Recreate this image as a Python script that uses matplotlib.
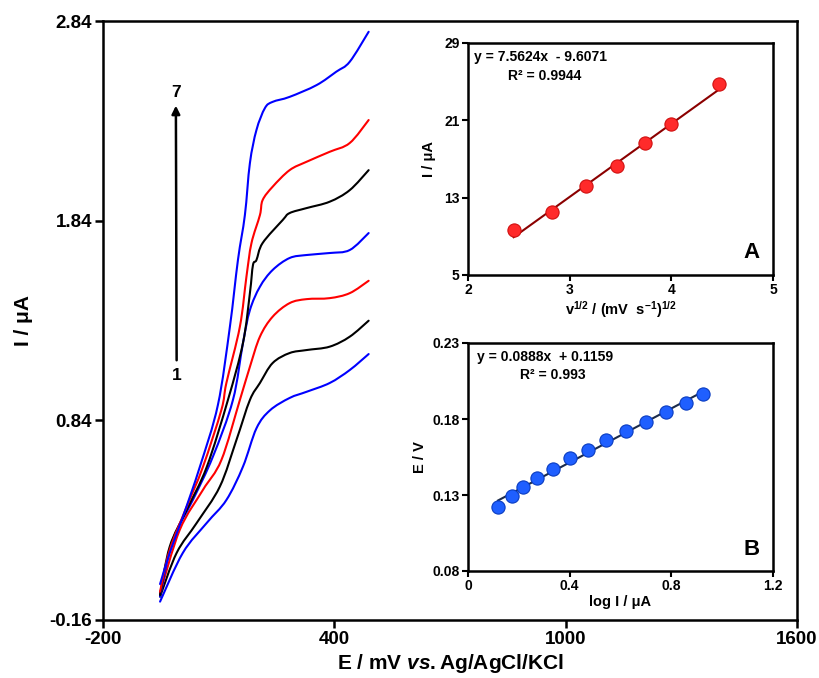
import numpy as np
import matplotlib
matplotlib.use("Agg")
import matplotlib.pyplot as plt
from matplotlib.path import Path
from matplotlib.patches import PathPatch

plt.rcParams['font.family'] = ['Liberation Sans', 'DejaVu Sans']
plt.rcParams['font.weight'] = 'bold'
plt.rcParams['mathtext.fontset'] = 'custom'
plt.rcParams['mathtext.rm'] = 'Liberation Sans:bold'
plt.rcParams['mathtext.bf'] = 'Liberation Sans:bold'
plt.rcParams['mathtext.it'] = 'Liberation Sans:bold:italic'

# ---------------- main LSV curves (E in mV, I in uA) ----------------
c1_E = [-52, 7, 69, 120, 163, 198, 233, 284, 328, 388, 440, 489]
c1_I = [-0.068, 0.176, 0.326, 0.441, 0.608, 0.800, 0.890, 0.952, 0.983, 1.027, 1.092, 1.172]

c2_E = [-52, -9, 43, 103, 146, 181, 207, 240, 284, 328, 388, 440, 489]
c2_I = [-0.043, 0.176, 0.326, 0.508, 0.741, 0.942, 1.027, 1.127, 1.177, 1.192, 1.209, 1.259, 1.339]

c3_E = [-52, -1, 59, 107, 155, 181, 207, 240, 284, 328, 388, 440, 489]
c3_I = [-0.025, 0.291, 0.491, 0.641, 0.942, 1.108, 1.259, 1.359, 1.427, 1.447, 1.452, 1.477, 1.539]

c4_E = [-52, -19, 33, 85, 137, 163, 181, 207, 240, 284, 328, 388, 440, 489]
c4_I = [-0.043, 0.241, 0.441, 0.658, 0.942, 1.227, 1.392, 1.509, 1.593, 1.653, 1.668, 1.678, 1.693, 1.778]

c5_E = [-52, -27, 17, 69, 124, 163, 181, 189, 198, 214, 266, 284, 328, 388, 440, 489]
c5_I = [-0.035, 0.207, 0.391, 0.606, 0.942, 1.227, 1.477, 1.618, 1.643, 1.728, 1.843, 1.878, 1.903, 1.935, 1.993, 2.093]

c6_E = [-52, -27, 17, 59, 107, 120, 155, 172, 185, 207, 214, 240, 284, 328, 388, 440, 489]
c6_I = [-0.018, 0.191, 0.407, 0.606, 0.892, 1.027, 1.309, 1.559, 1.727, 1.868, 1.943, 2.010, 2.093, 2.135, 2.185, 2.229, 2.344]

c7_E = [-52, -27, 7, 51, 98, 129, 150, 168, 181, 198, 220, 240, 284, 354, 405, 440, 489]
c7_I = [0.020, 0.176, 0.356, 0.606, 0.917, 1.307, 1.643, 1.868, 2.128, 2.294, 2.404, 2.435, 2.460, 2.519, 2.586, 2.636, 2.786]

curves_E = [c1_E, c2_E, c3_E, c4_E, c5_E, c6_E, c7_E]
curves_I = [c1_I, c2_I, c3_I, c4_I, c5_I, c6_I, c7_I]
curve_colors = ['#0000FF', '#000000', '#FF0000', '#0000FF', '#000000', '#FF0000', '#0000FF']

main_xticks = [-200, 400, 1000, 1600]
main_yticks = [-0.16, 0.84, 1.84, 2.84]

# ---------------- inset A ----------------
A_x = [2.449, 2.828, 3.162, 3.464, 3.742, 4.0, 4.472]
A_y = [9.66, 11.56, 14.22, 16.29, 18.64, 20.61, 24.75]
A_slope, A_icpt = 7.5624, -9.6071
A_xticks = [2, 3, 4, 5]
A_yticks = [5, 13, 21, 29]

# ---------------- inset B ----------------
B_x = [0.118, 0.173, 0.216, 0.271, 0.334, 0.400, 0.472, 0.542, 0.623, 0.702, 0.780, 0.856, 0.925]
B_y = [0.1222, 0.1293, 0.1354, 0.1409, 0.1469, 0.1541, 0.1596, 0.1662, 0.1722, 0.1783, 0.1843, 0.1904, 0.1964]
B_slope, B_icpt = 0.0888, 0.1159
B_xticks = [0, 0.4, 0.8, 1.2]
B_yticks = [0.08, 0.13, 0.18, 0.23]

W, H = 819, 678
fig = plt.figure(figsize=(W / 100, H / 100), dpi=100)

def frac(x0, y0, x1, y1):
    return [x0 / W, 1 - y1 / H, (x1 - x0) / W, (y1 - y0) / H]

def smooth_path(xs, ys):
    """Smooth curve through the data points (Catmull-Rom as cubic Bezier)."""
    P = np.column_stack([xs, ys]).astype(float)
    n = len(P)
    verts = [P[0]]
    codes = [Path.MOVETO]
    for i in range(n - 1):
        p0 = P[i - 1] if i > 0 else P[i]
        p1 = P[i]
        p2 = P[i + 1]
        p3 = P[i + 2] if i + 2 < n else P[i + 1]
        c1 = p1 + (p2 - p0) / 6.0
        c2 = p2 - (p3 - p1) / 6.0
        verts += [c1, c2, p2]
        codes += [Path.CURVE4] * 3
    return Path(verts, codes)

ax = fig.add_axes(frac(103, 21, 797, 620))
for E, I, c in zip(curves_E, curves_I, curve_colors):
    ax.add_patch(PathPatch(smooth_path(E, I), fill=False, edgecolor=c, lw=1.5,
                           joinstyle='round', capstyle='round'))
ax.set_xlim(-200, 1600)
ax.set_ylim(-0.16, 2.84)
ax.set_xticks(main_xticks)
ax.set_xticklabels([str(v) for v in main_xticks])
ax.set_yticks(main_yticks)
ax.set_yticklabels(['%.2f' % v for v in main_yticks])
for s in ax.spines.values():
    s.set_linewidth(1.8)
ax.tick_params(direction='out', length=6, width=1.8, labelsize=13.5, pad=2)
ax.set_xlabel(r'E / mV $\mathit{vs.}$Ag/AgCl/KCl', fontsize=15, fontweight='bold', labelpad=3)
ax.set_ylabel('I / μA', fontsize=15, fontweight='bold', labelpad=12)

# arrow 1 -> 7
ax.annotate('', xy=(-11, 2.43), xytext=(-9, 1.127),
            arrowprops=dict(arrowstyle='-|>', color='black', lw=1.8, mutation_scale=12))
ax.text(-11, 2.48, '7', fontsize=12.5, fontweight='bold', ha='center', va='center')
ax.text(-9, 1.067, '1', fontsize=12.5, fontweight='bold', ha='center', va='center')

def style_inset(a):
    for s in a.spines.values():
        s.set_linewidth(1.8)
    a.tick_params(direction='out', length=4, width=1.5, labelsize=10, pad=2)

# inset A
axA = fig.add_axes(frac(468, 43, 773, 275))
xa = np.array([A_x[0], A_x[-1]])
axA.plot(xa, A_slope * xa + A_icpt, color='#8B0000', lw=1.5, zorder=2)
axA.plot(A_x, A_y, 'o', ms=9.5, mfc='#FF2A2A', mec='#D01010', mew=0.8, zorder=3)
axA.set_xlim(2, 5)
axA.set_ylim(5, 29)
axA.set_xticks(A_xticks)
axA.set_yticks(A_yticks)
style_inset(axA)
axA.set_xlabel(r'v$^{1/2}$ / (mV  s$^{-1}$)$^{1/2}$', fontsize=10.5, fontweight='bold', labelpad=1)
axA.set_ylabel('I / μA', fontsize=10.5, fontweight='bold', labelpad=6)
axA.text(0.02, 0.97, 'y = 7.5624x  - 9.6071', transform=axA.transAxes, fontsize=10,
         fontweight='bold', ha='left', va='top')
axA.text(0.13, 0.89, 'R² = 0.9944', transform=axA.transAxes, fontsize=10,
         fontweight='bold', ha='left', va='top')
axA.text(0.955, 0.05, 'A', transform=axA.transAxes, fontsize=16, fontweight='bold',
         ha='right', va='bottom')

# inset B
axB = fig.add_axes(frac(468, 343, 773, 571))
xb = np.array([B_x[0], B_x[-1]])
axB.plot(xb, B_slope * xb + B_icpt, color='#1C2B4A', lw=1.5, zorder=2)
axB.plot(B_x, B_y, 'o', ms=9.5, mfc='#1F5FFF', mec='#0A3CC0', mew=0.8, zorder=3)
axB.set_xlim(0, 1.2)
axB.set_ylim(0.08, 0.23)
axB.set_xticks(B_xticks)
axB.set_xticklabels(['0', '0.4', '0.8', '1.2'])
axB.set_yticks(B_yticks)
axB.set_yticklabels(['%.2f' % v for v in B_yticks])
style_inset(axB)
axB.set_xlabel('log I / μA', fontsize=10.5, fontweight='bold', labelpad=1)
axB.set_ylabel('E / V', fontsize=10.5, fontweight='bold', labelpad=4)
axB.text(0.03, 0.97, 'y = 0.0888x  + 0.1159', transform=axB.transAxes, fontsize=10,
         fontweight='bold', ha='left', va='top')
axB.text(0.17, 0.89, 'R² = 0.993', transform=axB.transAxes, fontsize=10,
         fontweight='bold', ha='left', va='top')
axB.text(0.955, 0.05, 'B', transform=axB.transAxes, fontsize=16, fontweight='bold',
         ha='right', va='bottom')

fig.savefig('out.png', dpi=100)
